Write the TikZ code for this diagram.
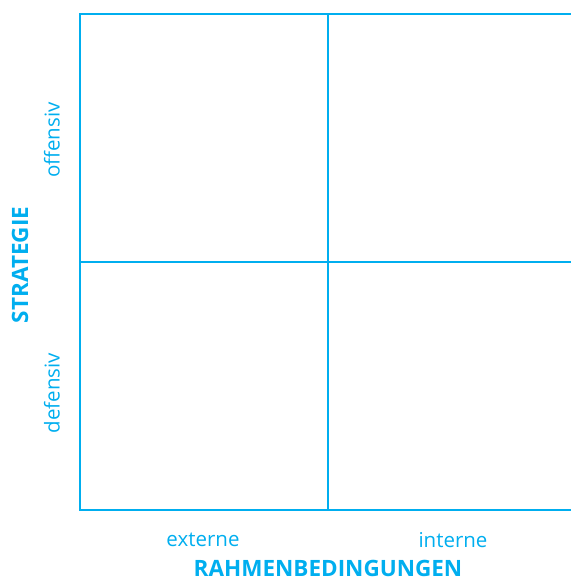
\documentclass[tikz,border=0pt]{standalone}
\usepackage{fontspec}
\setmainfont{Open Sans}
\definecolor{cy}{HTML}{00AEEF}
\begin{document}
\begin{tikzpicture}[x=1pt,y=-1pt,
  gridline/.style={draw=cy,line width=2pt},
  lab/.style={text=cy,font=\fontsize{20.5}{22}\selectfont,inner sep=0pt},
  head/.style={text=cy,font=\fontsize{22.5}{24}\selectfont\bfseries,inner sep=0pt,text depth=0pt}]
\useasboundingbox (0,0) rectangle (571,582);
\coordinate (tl) at (80,14);
\coordinate (tm) at (328,14);
\coordinate (tr) at (571,14);
\coordinate (ml) at (80,262);
\coordinate (mr) at (571,262);
\coordinate (bl) at (80,510);
\coordinate (bm) at (328,510);
\coordinate (br) at (571,510);
\draw[gridline] (tr) -- (tl) -- (bl) -- (br);
\draw[gridline] (tm) -- (bm);
\draw[gridline] (ml) -- (mr);
\node[lab,rotate=90] (off) at (52,140) {offensiv};
\node[lab,rotate=90] (def) at (52,393) {defensiv};
\node[head,rotate=90] (str) at (20,265) {STRATEGIE};
\node[lab] (ext) at (203,540) {externe};
\node[lab] (int) at (453,540) {interne};
\node[head] (rah) at (328,568) {RAHMENBEDINGUNGEN};
\end{tikzpicture}
\end{document}
